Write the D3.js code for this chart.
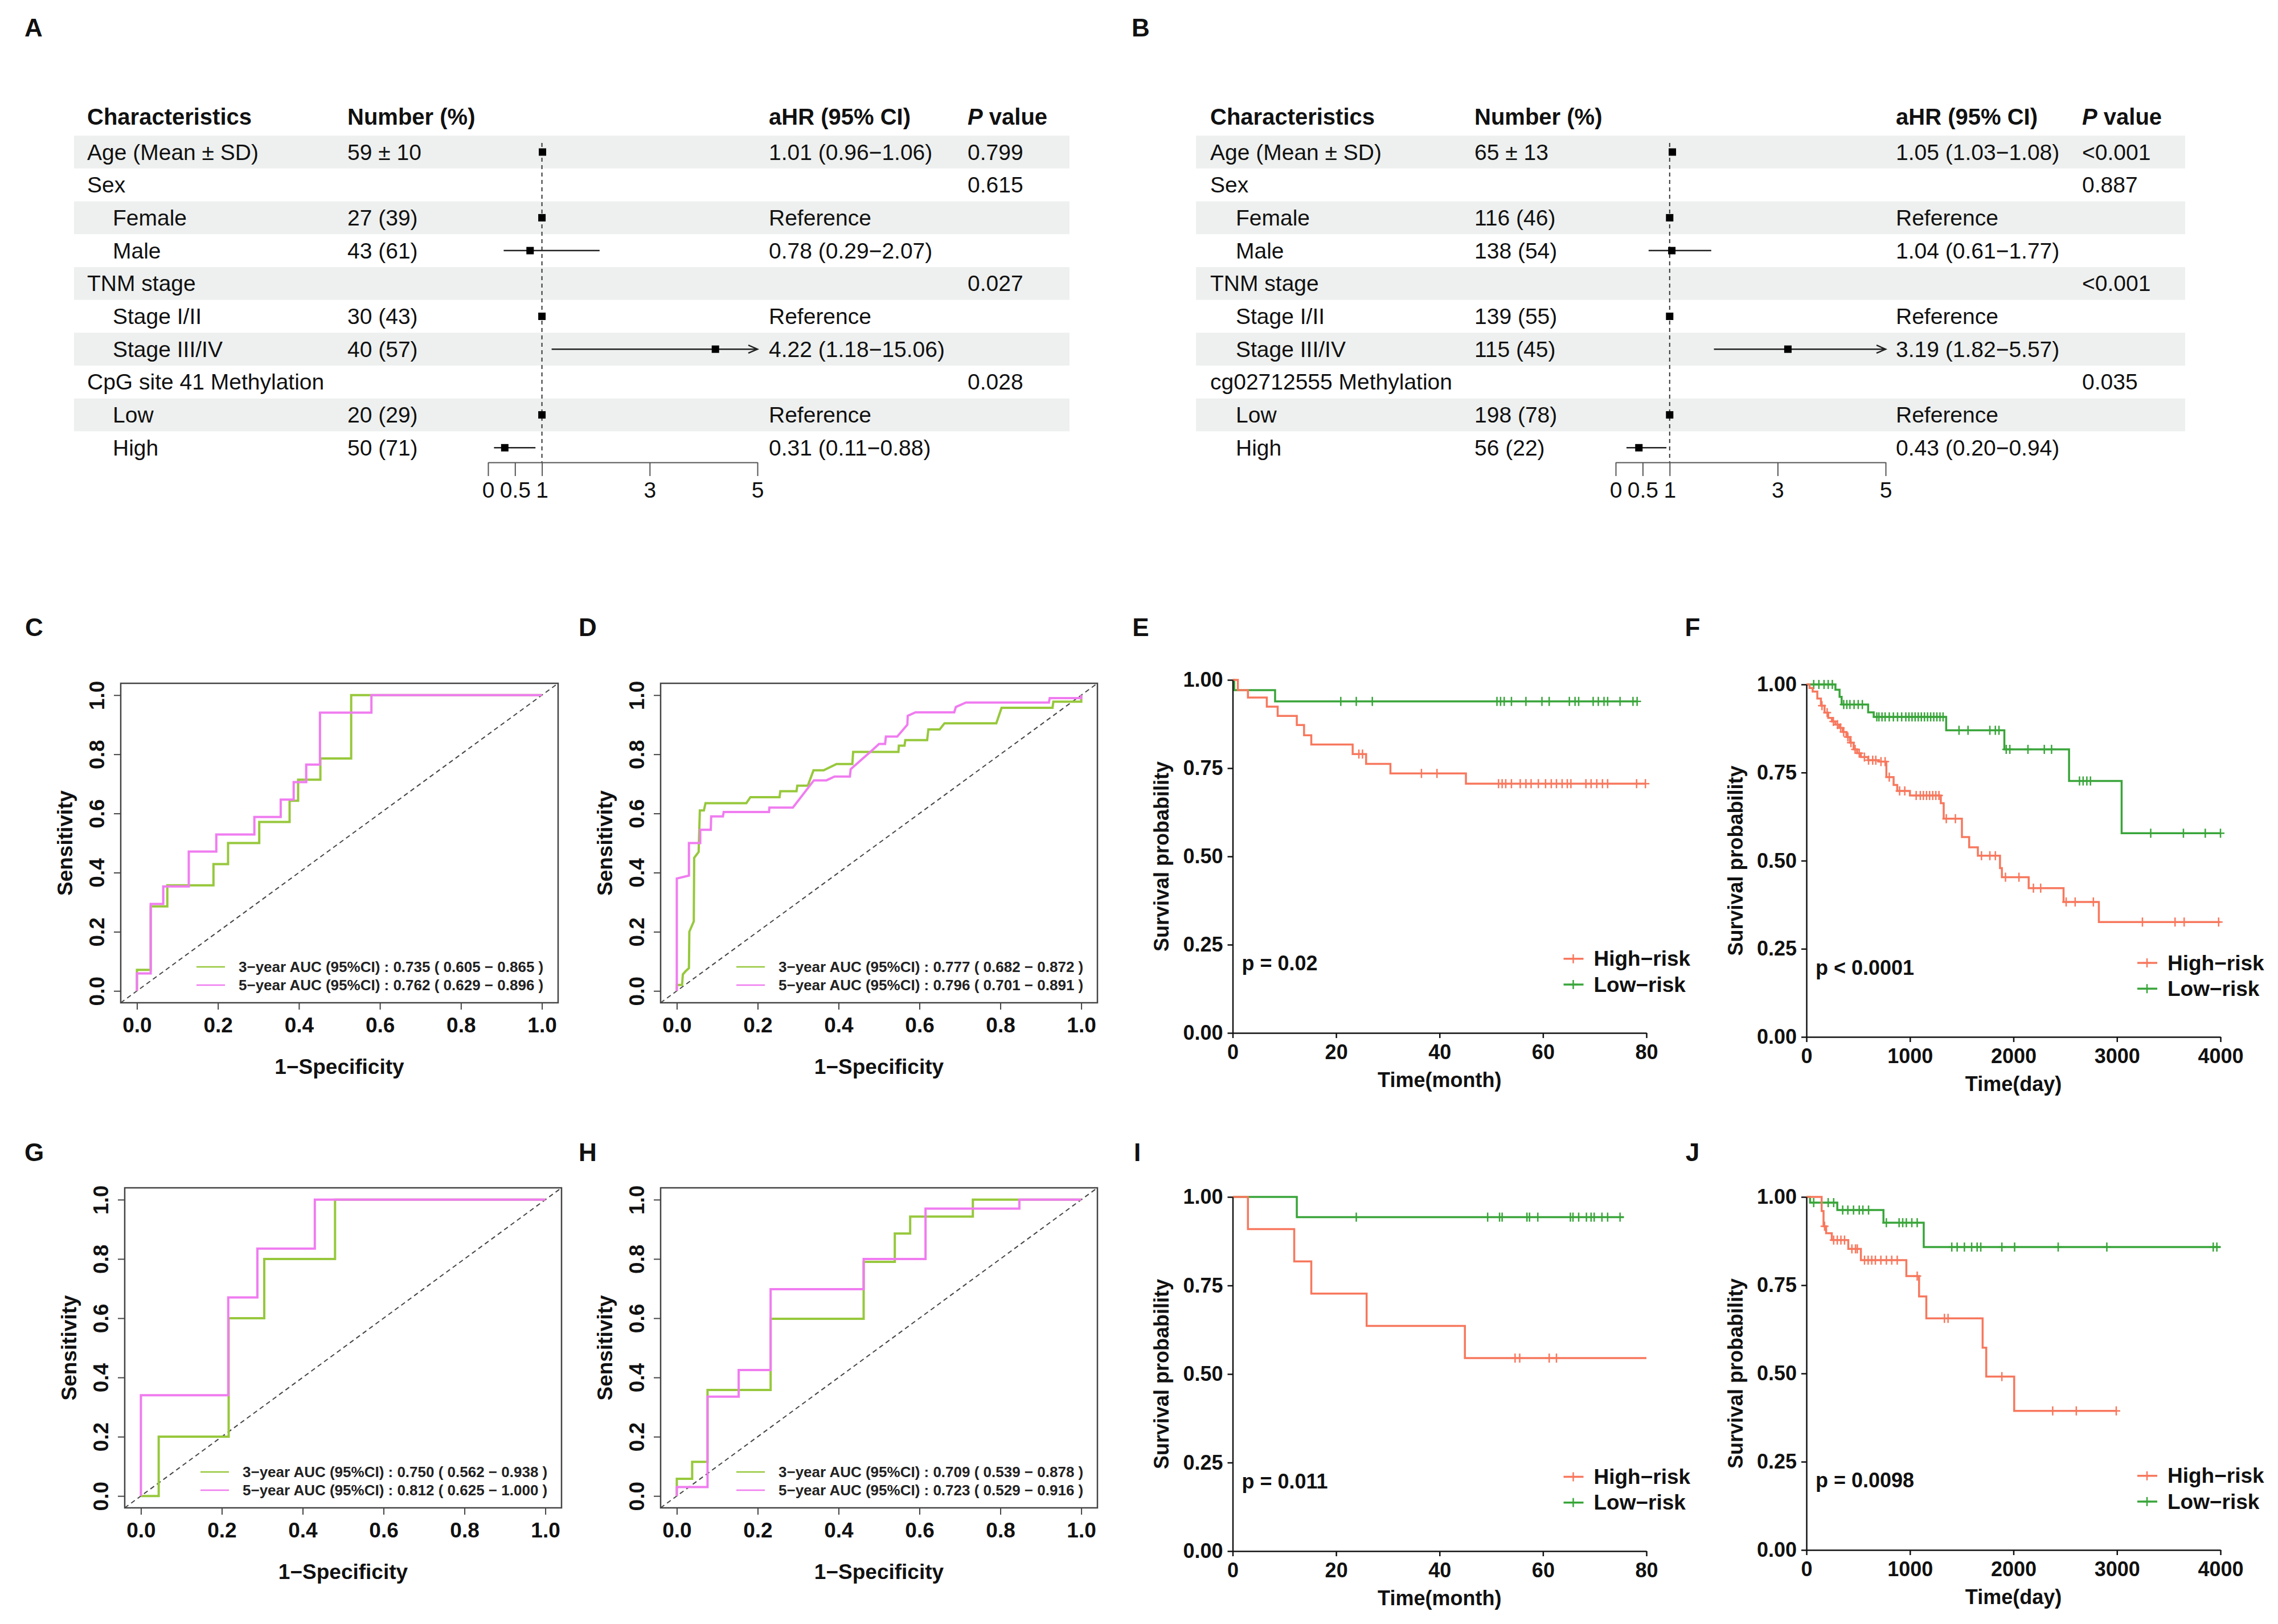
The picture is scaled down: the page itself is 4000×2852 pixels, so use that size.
<!DOCTYPE html>
<html>
<head>
<meta charset="utf-8">
<script src="https://cdn.jsdelivr.net/npm/d3@7"></script>
<style>
  body { margin: 0; background: #fff; }
  svg text { font-family: "Liberation Sans", Arial, sans-serif; }
</style>
</head>
<body>
<script>
// ---------- forest tables (A, B) ----------
const rowLabelsA = ["Age (Mean ± SD)", "Sex", "Female", "Male", "TNM stage", "Stage I/II", "Stage III/IV", "CpG site 41 Methylation", "Low", "High"];
const rowLabelsB = ["Age (Mean ± SD)", "Sex", "Female", "Male", "TNM stage", "Stage I/II", "Stage III/IV", "cg02712555 Methylation", "Low", "High"];
const subRow = [false, false, true, true, false, true, true, false, true, true];

const numA = ["59 ± 10", "", "27 (39)", "43 (61)", "", "30 (43)", "40 (57)", "", "20 (29)", "50 (71)"];
const hrA = [1.01, null, 1, 0.78, null, 1, 4.22, null, 1, 0.31];
const loA = [0.96, null, null, 0.29, null, null, 1.18, null, null, 0.11];
const hiA = [1.06, null, null, 2.07, null, null, 15.06, null, null, 0.88];
const hrTextA = ["1.01 (0.96−1.06)", "", "Reference", "0.78 (0.29−2.07)", "", "Reference", "4.22 (1.18−15.06)", "", "Reference", "0.31 (0.11−0.88)"];
const pA = ["0.799", "0.615", "", "", "0.027", "", "", "0.028", "", ""];

const numB = ["65 ± 13", "", "116 (46)", "138 (54)", "", "139 (55)", "115 (45)", "", "198 (78)", "56 (22)"];
const hrB = [1.05, null, 1, 1.04, null, 1, 3.19, null, 1, 0.43];
const loB = [1.03, null, null, 0.61, null, null, 1.82, null, null, 0.20];
const hiB = [1.08, null, null, 1.77, null, null, 5.57, null, null, 0.94];
const hrTextB = ["1.05 (1.03−1.08)", "", "Reference", "1.04 (0.61−1.77)", "", "Reference", "3.19 (1.82−5.57)", "", "Reference", "0.43 (0.20−0.94)"];
const pB = ["<0.001", "0.887", "", "", "<0.001", "", "", "0.035", "", ""];

const forestTicks = [0, 0.5, 1, 3, 5];

// ---------- ROC curves (vertices: [1-specificity, sensitivity]) ----------
const rocTicks = [0, 0.2, 0.4, 0.6, 0.8, 1.0];
const rocC3 = [[0,0],[0,0.071],[0.034,0.071],[0.034,0.286],[0.075,0.286],[0.075,0.357],[0.189,0.357],[0.189,0.429],[0.225,0.429],[0.225,0.5],[0.302,0.5],[0.302,0.571],[0.377,0.571],[0.377,0.643],[0.398,0.643],[0.398,0.714],[0.453,0.714],[0.453,0.786],[0.529,0.786],[0.529,1],[1,1]];
const rocC5 = [[0,0],[0,0.059],[0.034,0.059],[0.034,0.294],[0.065,0.294],[0.065,0.353],[0.128,0.353],[0.128,0.471],[0.196,0.471],[0.196,0.529],[0.29,0.529],[0.29,0.588],[0.355,0.588],[0.355,0.647],[0.387,0.647],[0.387,0.706],[0.418,0.706],[0.418,0.765],[0.452,0.765],[0.452,0.941],[0.579,0.941],[0.579,1],[1,1]];
const rocD3 = [[0,0],[0,0.02],[0.013,0.02],[0.015,0.056],[0.022,0.067],[0.03,0.077],[0.031,0.2],[0.042,0.235],[0.043,0.45],[0.054,0.47],[0.057,0.61],[0.067,0.61],[0.071,0.635],[0.172,0.635],[0.182,0.655],[0.254,0.655],[0.256,0.675],[0.296,0.675],[0.298,0.694],[0.324,0.694],[0.338,0.746],[0.363,0.746],[0.395,0.767],[0.434,0.767],[0.436,0.808],[0.548,0.808],[0.549,0.829],[0.563,0.829],[0.565,0.848],[0.619,0.848],[0.622,0.884],[0.65,0.884],[0.662,0.905],[0.79,0.905],[0.803,0.957],[0.929,0.957],[0.931,0.978],[1,0.978],[1,1]];
const rocD5 = [[0,0],[0,0.38],[0.03,0.39],[0.03,0.5],[0.058,0.5],[0.058,0.545],[0.084,0.545],[0.085,0.59],[0.114,0.59],[0.116,0.605],[0.228,0.605],[0.229,0.62],[0.287,0.62],[0.339,0.712],[0.37,0.712],[0.39,0.725],[0.428,0.725],[0.43,0.75],[0.48,0.81],[0.5,0.835],[0.515,0.835],[0.517,0.86],[0.545,0.86],[0.57,0.9],[0.571,0.93],[0.59,0.942],[0.686,0.942],[0.69,0.96],[0.715,0.975],[0.92,0.975],[0.922,0.99],[1,0.99],[1,1]];
const rocG3 = [[0,0],[0.044,0],[0.044,0.2],[0.217,0.2],[0.217,0.6],[0.305,0.6],[0.305,0.8],[0.48,0.8],[0.48,1],[1,1]];
const rocG5 = [[0,0],[0,0.34],[0.216,0.34],[0.216,0.67],[0.288,0.67],[0.288,0.835],[0.43,0.835],[0.43,1],[1,1]];
const rocH3 = [[0,0],[0,0.058],[0.038,0.058],[0.038,0.115],[0.076,0.115],[0.076,0.358],[0.232,0.358],[0.232,0.598],[0.462,0.598],[0.462,0.79],[0.539,0.79],[0.539,0.886],[0.577,0.886],[0.577,0.943],[0.732,0.943],[0.732,1],[1,1]];
const rocH5 = [[0,0],[0,0.03],[0.076,0.03],[0.076,0.335],[0.153,0.335],[0.153,0.425],[0.232,0.425],[0.232,0.698],[0.462,0.698],[0.462,0.8],[0.615,0.8],[0.615,0.97],[0.847,0.97],[0.847,1],[1,1]];
const legC = ["3−year AUC (95%CI) : 0.735 ( 0.605 − 0.865 )", "5−year AUC (95%CI) : 0.762 ( 0.629 − 0.896 )"];
const legD = ["3−year AUC (95%CI) : 0.777 ( 0.682 − 0.872 )", "5−year AUC (95%CI) : 0.796 ( 0.701 − 0.891 )"];
const legG = ["3−year AUC (95%CI) : 0.750 ( 0.562 − 0.938 )", "5−year AUC (95%CI) : 0.812 ( 0.625 − 1.000 )"];
const legH = ["3−year AUC (95%CI) : 0.709 ( 0.539 − 0.878 )", "5−year AUC (95%CI) : 0.723 ( 0.529 − 0.916 )"];

// ---------- Kaplan-Meier curves (drop times, survival after drop, last time, censor times) ----------
const survTicks = [0, 0.25, 0.5, 0.75, 1];
const monthTicks = [0, 20, 40, 60, 80];
const dayTicks = [0, 1000, 2000, 3000, 4000];

const eHighT = [0, 1.0, 2.95, 6.6, 8.7, 12.4, 13.8, 15.2, 23.2, 25.8, 30.5, 45.1];
const eHighS = [1, 0.971, 0.95, 0.924, 0.898, 0.872, 0.843, 0.817, 0.79, 0.762, 0.735, 0.706];
const eHighEnd = 79.8;
const eHighCens = [24.4, 25.1, 36.5, 39.5, 51.4, 52.1, 52.8, 53.9, 55.6, 56.7, 57.7, 59.1, 60.5, 61.6, 62.6, 63.7, 64.7, 65.4, 68.3, 69.3, 70.4, 71.5, 72.5, 78.1, 79.8];
const eLowT = [0, 0.3, 8.2];
const eLowS = [1, 0.971, 0.939];
const eLowEnd = 78.2;
const eLowCens = [20.9, 23.9, 27.0, 51.1, 51.8, 52.5, 53.9, 56.7, 59.8, 61.2, 65.1, 66.2, 66.9, 69.7, 70.7, 71.8, 72.5, 74.9, 77.4, 78.2];

const fHighT = [0, 30, 60, 105, 140, 175, 210, 246, 280, 316, 350, 386, 420, 456, 490, 526, 596, 700, 772, 842, 877, 1000, 1298, 1326, 1502, 1572, 1656, 1870, 1888, 2147, 2484, 2825];
const fHighS = [1, 0.99, 0.98, 0.96, 0.94, 0.92, 0.905, 0.895, 0.886, 0.877, 0.865, 0.851, 0.835, 0.816, 0.805, 0.794, 0.785, 0.781, 0.737, 0.715, 0.698, 0.685, 0.663, 0.619, 0.567, 0.538, 0.514, 0.479, 0.453, 0.422, 0.383, 0.326];
const fHighEnd = 4000;
const fHighCens = [150, 200, 260, 300, 330, 360, 400, 430, 470, 510, 560, 600, 640, 670, 720, 760, 800, 900, 950, 1060, 1100, 1130, 1160, 1190, 1220, 1250, 1280, 1351, 1439, 1691, 1772, 1825, 1923, 2053, 2193, 2263, 2509, 2596, 2772, 3246, 3561, 3649, 3982];
const fLowT = [0, 280, 320, 340, 596, 650, 1350, 1912, 2537, 3045];
const fLowS = [1, 0.985, 0.965, 0.943, 0.921, 0.908, 0.870, 0.816, 0.726, 0.578];
const fLowEnd = 4000;
const fLowCens = [70, 120, 170, 210, 250, 360, 390, 420, 460, 500, 540, 680, 700, 730, 760, 800, 840, 880, 920, 960, 990, 1020, 1050, 1080, 1110, 1140, 1170, 1200, 1230, 1260, 1290, 1320, 1474, 1561, 1772, 1825, 1860, 1930, 1965, 2140, 2298, 2368, 2638, 2673, 2709, 2744, 3326, 3642, 3853, 4000];

const iHighT = [0, 2.95, 11.9, 15.2, 25.9, 44.9];
const iHighS = [1, 0.909, 0.818, 0.727, 0.636, 0.545];
const iHighEnd = 80;
const iHighCens = [54.6, 55.5, 61.2, 62.6];
const iLowT = [0, 12.4];
const iLowS = [1, 0.943];
const iLowEnd = 75.6;
const iLowCens = [23.9, 49.3, 51.6, 52.1, 56.9, 57.4, 59.0, 65.3, 65.8, 66.9, 68.4, 69.3, 69.9, 71.4, 72.5, 74.9];

const jHighT = [0, 147, 165, 190, 245, 404, 526, 965, 1088, 1158, 1702, 1737, 2007];
const jHighS = [1, 0.96, 0.917, 0.897, 0.878, 0.853, 0.821, 0.776, 0.718, 0.656, 0.573, 0.491, 0.394];
const jHighEnd = 3000;
const jHighCens = [175, 263, 298, 333, 368, 439, 474, 491, 561, 596, 631, 666, 719, 772, 824, 877, 1070, 1333, 1368, 1888, 2379, 2607, 2993];
const jLowT = [0, 35, 298, 744, 1133];
const jLowS = [1, 0.984, 0.963, 0.927, 0.858];
const jLowEnd = 4000;
const jLowCens = [70, 210, 263, 350, 400, 455, 510, 545, 600, 772, 895, 930, 965, 1018, 1070, 1404, 1456, 1526, 1596, 1649, 1684, 1888, 2011, 2432, 2902, 3930, 3965];

// ---------- drawing ----------
const svg = d3.select("body").append("svg")
    .attr("width", 4000)
    .attr("height", 2852);

const ink = "#111";
const col3 = "#97C83C", col5 = "#F07CF0";
const colHigh = "#F7785E", colLow = "#39A53A";

function panelLabel(t, x, y) {
  svg.append("text").attr("x", x).attr("y", y)
      .attr("text-anchor", "middle").attr("dominant-baseline", "central")
      .attr("font-size", 44).attr("font-weight", "bold").attr("fill", ink)
      .text(t);
}

const headY = 205, row0 = 267, rowStep = 57.7, forestAxisY = 812;

function forest(c) {
  const g = svg.append("g");
  const x = d3.scaleLinear().domain([0, 5]).range([c.x0, c.x5]);
  const rowY = i => row0 + i * rowStep;
  const idx = d3.range(c.labels.length);

  g.selectAll("rect.band").data(idx.filter(i => i % 2 === 0)).join("rect")
      .attr("class", "band")
      .attr("x", c.bandL).attr("width", c.bandR - c.bandL)
      .attr("y", i => rowY(i) - rowStep / 2).attr("height", rowStep)
      .attr("fill", "#eef0ef");

  // header
  const head = g.append("g").attr("font-size", 40).attr("font-weight", "bold").attr("fill", ink);
  head.append("text").attr("x", c.colChar).attr("y", headY).attr("dominant-baseline", "central").text("Characteristics");
  head.append("text").attr("x", c.colNum).attr("y", headY).attr("dominant-baseline", "central").text("Number (%)");
  head.append("text").attr("x", c.colHr).attr("y", headY).attr("dominant-baseline", "central").text("aHR (95% CI)");
  const ph = head.append("text").attr("x", c.colP).attr("y", headY).attr("dominant-baseline", "central");
  ph.append("tspan").attr("font-style", "italic").text("P");
  ph.append("tspan").text(" value");

  const body = g.append("g").attr("font-size", 39).attr("fill", ink).attr("dominant-baseline", "central");
  body.selectAll("text.lab").data(idx).join("text").attr("class", "lab")
      .attr("x", i => subRow[i] ? c.colSub : c.colChar).attr("y", rowY)
      .text(i => c.labels[i]);
  body.selectAll("text.num").data(idx).join("text").attr("class", "num")
      .attr("x", c.colNum).attr("y", rowY).text(i => c.nums[i]);
  body.selectAll("text.hr").data(idx).join("text").attr("class", "hr")
      .attr("x", c.colHr).attr("y", rowY).text(i => c.hrText[i]);
  body.selectAll("text.pv").data(idx).join("text").attr("class", "pv")
      .attr("x", c.colP).attr("y", rowY).text(i => c.p[i]);

  // reference line at HR = 1
  g.append("line")
      .attr("x1", x(1)).attr("x2", x(1))
      .attr("y1", rowY(0) - 16).attr("y2", forestAxisY)
      .attr("stroke", "#333").attr("stroke-width", 2).attr("stroke-dasharray", "7,6");

  // confidence intervals
  const ci = idx.filter(i => c.lo[i] != null);
  g.selectAll("line.ci").data(ci).join("line").attr("class", "ci")
      .attr("x1", i => x(c.lo[i])).attr("x2", i => x(Math.min(c.hi[i], 5)))
      .attr("y1", rowY).attr("y2", rowY)
      .attr("stroke", "#222").attr("stroke-width", 2.5);
  g.selectAll("path.arrow").data(ci.filter(i => c.hi[i] > 5)).join("path").attr("class", "arrow")
      .attr("d", i => `M${x(5) - 16},${rowY(i) - 7}L${x(5)},${rowY(i)}L${x(5) - 16},${rowY(i) + 7}`)
      .attr("fill", "none").attr("stroke", "#222").attr("stroke-width", 2.5);

  g.selectAll("rect.pt").data(idx.filter(i => c.hr[i] != null)).join("rect").attr("class", "pt")
      .attr("x", i => x(c.hr[i]) - 6.5).attr("y", i => rowY(i) - 6.5)
      .attr("width", 13).attr("height", 13).attr("fill", "#000");

  const ax = g.append("g").attr("transform", `translate(0,${forestAxisY})`)
      .call(d3.axisBottom(x).tickValues(forestTicks).tickFormat(d3.format("")).tickSize(24).tickSizeOuter(0).tickPadding(10));
  ax.selectAll("path, line").attr("stroke", "#555").attr("stroke-width", 2);
  ax.selectAll("text").attr("font-size", 39).attr("fill", ink);
}

forest({ labels: rowLabelsA, nums: numA, hr: hrA, lo: loA, hi: hiA, hrText: hrTextA, p: pA,
         bandL: 130, bandR: 1878, colChar: 153, colSub: 198, colNum: 610, colHr: 1350, colP: 1699, x0: 857, x5: 1330 });
forest({ labels: rowLabelsB, nums: numB, hr: hrB, lo: loB, hi: hiB, hrText: hrTextB, p: pB,
         bandL: 2100, bandR: 3837, colChar: 2125, colSub: 2170, colNum: 2589, colHr: 3329, colP: 3656, x0: 2837, x5: 3311 });

function roc(c) {
  const g = svg.append("g");
  const x = d3.scaleLinear().domain([-0.04, 1.04]).range([c.L, c.R]);
  const y = d3.scaleLinear().domain([-0.04, 1.04]).range([c.B, c.T]);

  g.append("line")
      .attr("x1", x(-0.04)).attr("y1", y(-0.04)).attr("x2", x(1.04)).attr("y2", y(1.04))
      .attr("stroke", "#444").attr("stroke-width", 2).attr("stroke-dasharray", "8,6");

  const line = d3.line().x(d => x(d[0])).y(d => y(d[1]));
  g.append("path").attr("d", line(c.c3)).attr("fill", "none").attr("stroke", col3).attr("stroke-width", 4);
  g.append("path").attr("d", line(c.c5)).attr("fill", "none").attr("stroke", col5).attr("stroke-width", 4);

  g.append("rect").attr("x", c.L).attr("y", c.T).attr("width", c.R - c.L).attr("height", c.B - c.T)
      .attr("fill", "none").attr("stroke", "#444").attr("stroke-width", 2.5);

  const xa = g.append("g").attr("transform", `translate(0,${c.B})`)
      .call(d3.axisBottom(x).tickValues(rocTicks).tickFormat(d3.format(".1f")).tickSize(12).tickSizeOuter(0).tickPadding(14));
  xa.select(".domain").remove();
  xa.selectAll("line").attr("stroke", "#444").attr("stroke-width", 2);
  xa.selectAll("text").attr("font-size", 37).attr("font-weight", "bold").attr("fill", ink);

  const ya = g.append("g").attr("transform", `translate(${c.L},0)`)
      .call(d3.axisLeft(y).tickValues(rocTicks).tickFormat(d3.format(".1f")).tickSize(12).tickSizeOuter(0));
  ya.select(".domain").remove();
  ya.selectAll("line").attr("stroke", "#444").attr("stroke-width", 2);
  ya.selectAll("text").attr("font-size", 37).attr("font-weight", "bold").attr("fill", ink)
      .attr("x", null).attr("dy", null).attr("text-anchor", "middle").attr("dominant-baseline", "central")
      .attr("transform", "translate(-42,0) rotate(-90)");

  g.append("text").attr("x", (c.L + c.R) / 2).attr("y", c.B + 112)
      .attr("text-anchor", "middle").attr("dominant-baseline", "central")
      .attr("font-size", 37).attr("font-weight", "bold").attr("fill", ink).text("1−Specificity");
  g.append("text").attr("transform", `translate(${c.L - 98},${(c.T + c.B) / 2}) rotate(-90)`)
      .attr("text-anchor", "middle").attr("dominant-baseline", "central")
      .attr("font-size", 37).attr("font-weight", "bold").attr("fill", ink).text("Sensitivity");

  [[c.leg[0], col3, c.B - 63], [c.leg[1], col5, c.B - 31]].forEach(([t, col, ly]) => {
    g.append("line").attr("x1", c.L + 133).attr("x2", c.L + 183).attr("y1", ly).attr("y2", ly)
        .attr("stroke", col).attr("stroke-width", 2.5);
    g.append("text").attr("x", c.L + 207).attr("y", ly).attr("dominant-baseline", "central")
        .attr("font-size", 26).attr("font-weight", "bold").attr("fill", "#222").text(t);
  });
}

roc({ L: 212, R: 980, T: 1200, B: 1761, c3: rocC3, c5: rocC5, leg: legC });
roc({ L: 1160, R: 1927, T: 1200, B: 1761, c3: rocD3, c5: rocD5, leg: legD });
roc({ L: 219, R: 986, T: 2086, B: 2648, c3: rocG3, c5: rocG5, leg: legG });
roc({ L: 1160, R: 1927, T: 2086, B: 2648, c3: rocH3, c5: rocH5, leg: legH });

const plus = "M-7,0H7M0,-8V8";

function km(c) {
  const g = svg.append("g");
  const x = d3.scaleLinear().domain([0, c.xMax]).range([c.L, c.R]);
  const y = d3.scaleLinear().domain([0, 1]).range([c.B, c.T]);
  const step = d3.line().x(d => x(d[0])).y(d => y(d[1])).curve(d3.curveStepAfter);

  c.groups.forEach(s => {
    const pts = s.t.map((t, i) => [t, s.s[i]]);
    pts.push([s.end, s.s[s.s.length - 1]]);
    g.append("path").attr("d", step(pts)).attr("fill", "none")
        .attr("stroke", s.col).attr("stroke-width", 3.5);
    const at = t => s.s[d3.bisectRight(s.t, t) - 1];
    g.selectAll(null).data(s.cens).join("path")
        .attr("d", plus)
        .attr("transform", t => `translate(${x(t)},${y(at(t))})`)
        .attr("stroke", s.col).attr("stroke-width", 2.5).attr("fill", "none");
  });

  const xa = g.append("g").attr("transform", `translate(0,${c.B})`)
      .call(d3.axisBottom(x).tickValues(c.xTicks).tickFormat(d3.format("d")).tickSize(9).tickSizeOuter(0).tickPadding(11));
  const ya = g.append("g").attr("transform", `translate(${c.L},0)`)
      .call(d3.axisLeft(y).tickValues(survTicks).tickFormat(d3.format(".2f")).tickSize(9).tickSizeOuter(0).tickPadding(8));
  [xa, ya].forEach(a => {
    a.selectAll("path, line").attr("stroke", "#111").attr("stroke-width", 2.5);
    a.selectAll("text").attr("font-size", 36).attr("font-weight", "bold").attr("fill", ink);
  });

  g.append("text").attr("x", (c.L + c.R) / 2).attr("y", c.B + 82)
      .attr("text-anchor", "middle").attr("dominant-baseline", "central")
      .attr("font-size", 36).attr("font-weight", "bold").attr("fill", ink).text(c.xTitle);
  g.append("text").attr("transform", `translate(${c.L - 125},${(c.T + c.B) / 2}) rotate(-90)`)
      .attr("text-anchor", "middle").attr("dominant-baseline", "central")
      .attr("font-size", 36).attr("font-weight", "bold").attr("fill", ink).text("Survival probability");

  g.append("text").attr("x", c.L + 16).attr("y", y(0.197)).attr("dominant-baseline", "central")
      .attr("font-size", 36).attr("font-weight", "bold").attr("fill", ink).text(c.pText);

  [["High−risk", colHigh, 0.21], ["Low−risk", colLow, 0.137]].forEach(([t, col, v]) => {
    const ly = y(v);
    g.append("line").attr("x1", c.L + 581).attr("x2", c.L + 616).attr("y1", ly).attr("y2", ly)
        .attr("stroke", col).attr("stroke-width", 3.5);
    g.append("path").attr("d", plus).attr("transform", `translate(${c.L + 598},${ly})`)
        .attr("stroke", col).attr("stroke-width", 2.5);
    g.append("text").attr("x", c.L + 634).attr("y", ly).attr("dominant-baseline", "central")
        .attr("font-size", 37).attr("font-weight", "bold").attr("fill", ink).text(t);
  });
}

km({ L: 2164.5, R: 2891, T: 1194, B: 1814, xMax: 80, xTicks: monthTicks, xTitle: "Time(month)", pText: "p = 0.02",
     groups: [{ t: eLowT, s: eLowS, end: eLowEnd, cens: eLowCens, col: colLow },
              { t: eHighT, s: eHighS, end: eHighEnd, cens: eHighCens, col: colHigh }] });
km({ L: 3172, R: 3899, T: 1202, B: 1821, xMax: 4000, xTicks: dayTicks, xTitle: "Time(day)", pText: "p < 0.0001",
     groups: [{ t: fLowT, s: fLowS, end: fLowEnd, cens: fLowCens, col: colLow },
              { t: fHighT, s: fHighS, end: fHighEnd, cens: fHighCens, col: colHigh }] });
km({ L: 2164.5, R: 2891, T: 2102, B: 2724, xMax: 80, xTicks: monthTicks, xTitle: "Time(month)", pText: "p = 0.011",
     groups: [{ t: iLowT, s: iLowS, end: iLowEnd, cens: iLowCens, col: colLow },
              { t: iHighT, s: iHighS, end: iHighEnd, cens: iHighCens, col: colHigh }] });
km({ L: 3172, R: 3899, T: 2102, B: 2722, xMax: 4000, xTicks: dayTicks, xTitle: "Time(day)", pText: "p = 0.0098",
     groups: [{ t: jLowT, s: jLowS, end: jLowEnd, cens: jLowCens, col: colLow },
              { t: jHighT, s: jHighS, end: jHighEnd, cens: jHighCens, col: colHigh }] });

panelLabel("A", 59, 48);
panelLabel("B", 2003, 48);
panelLabel("C", 60, 1101);
panelLabel("D", 1032, 1101);
panelLabel("E", 2003, 1101);
panelLabel("F", 2972, 1101);
panelLabel("G", 60, 2023);
panelLabel("H", 1032, 2023);
panelLabel("I", 1997, 2023);
panelLabel("J", 2972, 2023);
</script>
</body>
</html>
